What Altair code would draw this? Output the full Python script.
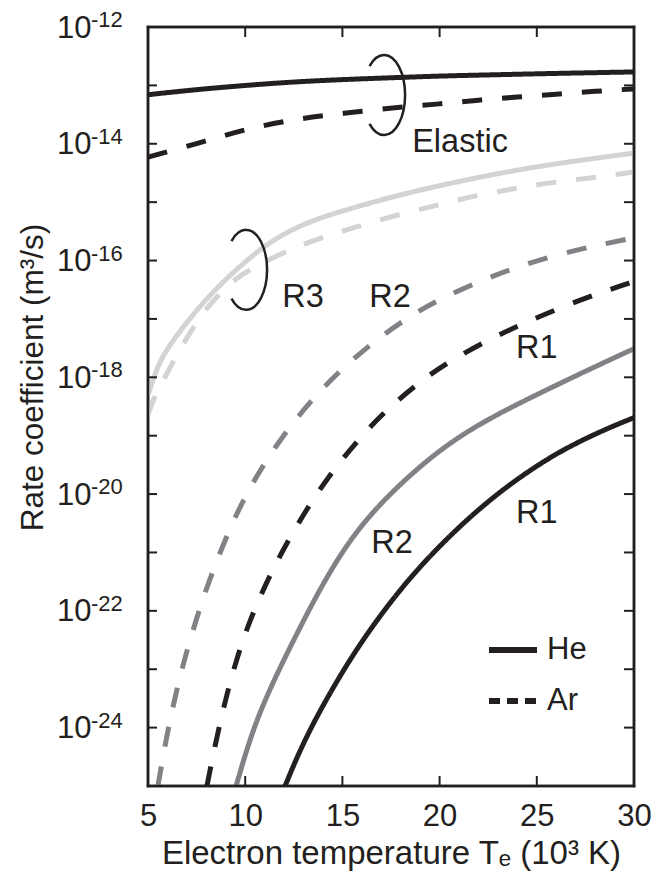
import altair as alt
import pandas as pd

# ---------------- data ----------------
he_elastic_T = [5, 7.5, 10, 12.5, 15, 17.5, 20, 22.5, 25, 27.5, 30]
he_elastic_k = [6.92e-14, 8.51e-14, 1.0e-13, 1.15e-13, 1.26e-13, 1.35e-13, 1.45e-13, 1.51e-13, 1.58e-13, 1.64e-13, 1.70e-13]

ar_elastic_T = [5, 7.5, 10, 12.5, 15, 18, 20, 22, 24, 26, 28, 30]
ar_elastic_k = [5.9e-15, 1.0e-14, 1.78e-14, 2.63e-14, 3.31e-14, 4.27e-14, 4.79e-14, 5.62e-14, 6.31e-14, 7.08e-14, 7.94e-14, 8.71e-14]

he_r3_T = [5, 5.5, 6, 7, 8, 9, 10, 11, 12, 13, 14, 15, 17, 19, 22, 25, 27.5, 30]
he_r3_k = [5.0e-19, 1.58e-18, 3.16e-18, 8.91e-18, 2.19e-17, 4.79e-17, 9.55e-17, 1.78e-16, 2.88e-16, 4.17e-16,
           5.56e-16, 7.08e-16, 1.10e-15, 1.62e-15, 2.69e-15, 4.07e-15, 5.37e-15, 6.92e-15]

ar_r3_T = [5, 5.25, 6, 7, 8, 9.2, 10.25, 11.6, 12.65, 13.85, 15.75, 17.8, 19.9, 21.9, 24, 26, 28.25, 30]
ar_r3_k = [2.29e-19, 4.07e-19, 1.23e-18, 4.9e-18, 1.55e-17, 4.17e-17, 7.08e-17, 1.20e-16, 1.70e-16, 2.45e-16,
           3.80e-16, 6.03e-16, 8.91e-16, 1.32e-15, 1.74e-15, 2.24e-15, 2.69e-15, 3.31e-15]

ar_r2_T = [5.51, 5.98, 6.49, 6.9, 7.52, 8.09, 9.06, 9.89, 10.76, 11.94, 13.33, 14.72, 16.42, 18.32, 20.02,
           22.08, 23.98, 26.04, 28.1, 30]
ar_r2_k = [1e-25, 7.94e-25, 4.68e-24, 1.58e-23, 7.94e-23, 2.95e-22, 2.0e-21, 7.76e-21, 2.57e-20, 1.0e-19,
           3.80e-19, 1.17e-18, 3.63e-18, 1.05e-17, 2.19e-17, 4.47e-17, 7.76e-17, 1.26e-16, 1.82e-16, 2.45e-16]

ar_r1_T = [8.03, 8.55, 9.06, 9.58, 10.25, 11.28, 12.15, 13.18, 14.21, 15.75, 17.09, 18.84, 20.38, 22.44,
           24.29, 26.19, 28.25, 30]
ar_r1_k = [1e-25, 7.24e-25, 3.80e-24, 1.58e-23, 7.24e-23, 4.17e-22, 1.48e-21, 5.62e-21, 1.86e-20, 8.13e-20,
           2.45e-19, 7.76e-19, 1.78e-18, 4.27e-18, 8.32e-18, 1.55e-17, 2.82e-17, 4.37e-17]

he_r2_T = [9.53, 10.4, 11.43, 12.46, 13.49, 14.36, 15.39, 16.57, 18.12, 19.87, 21.72, 23.98, 26.35, 28.1, 30]
he_r2_k = [1e-25, 9.77e-25, 6.03e-24, 3.02e-23, 1.41e-22, 4.68e-22, 1.62e-21, 5.01e-21, 1.66e-20, 5.25e-20,
           1.38e-19, 3.47e-19, 8.32e-19, 1.58e-18, 3.09e-18]

he_r1_T = [12.05, 12.82, 13.85, 15.39, 16.93, 18.48, 20.02, 21.56, 23.11, 24.65, 26.19, 27.74, 29.03, 30]
he_r1_k = [1e-25, 4.17e-25, 2.0e-24, 1.51e-23, 8.32e-23, 3.72e-22, 1.32e-21, 4.07e-21, 1.10e-20, 2.57e-20,
           5.37e-20, 9.77e-20, 1.51e-19, 2.04e-19]

# annotation labels
ann_text = ["Elastic", "R3", "R2", "R1", "R2", "R1"]
ann_T = [21.05, 12.97, 17.45, 25.0, 17.55, 25.0]
ann_k = [7.24e-15, 1.62e-17, 1.62e-17, 2.14e-18, 9.77e-22, 3.24e-21]

# bracket centres
bracket_T = [17.14, 10.04]
bracket_k = [6.85e-14, 6.92e-17]

# axes
x_ticks = [5, 10, 15, 20, 25, 30]
x_inner_ticks = [10, 15, 20, 25]
x_edges = [5, 30]
y_decades = [10.0 ** e for e in range(-24, -12)]
y_edges = [1e-25, 1e-12]
y_label_vals = [1e-12, 1e-14, 1e-16, 1e-18, 1e-20, 1e-22, 1e-24]
y_label_exp = ["-12", "-14", "-16", "-18", "-20", "-22", "-24"]

# ---------------- build tables ----------------
series = [
    ("R3 He", "He", "R3", he_r3_T, he_r3_k),
    ("R3 Ar", "Ar", "R3", ar_r3_T, ar_r3_k),
    ("R2 Ar", "Ar", "R2", ar_r2_T, ar_r2_k),
    ("R2 He", "He", "R2", he_r2_T, he_r2_k),
    ("R1 Ar", "Ar", "R1", ar_r1_T, ar_r1_k),
    ("R1 He", "He", "R1", he_r1_T, he_r1_k),
    ("El He", "He", "Elastic", he_elastic_T, he_elastic_k),
    ("El Ar", "Ar", "Elastic", ar_elastic_T, ar_elastic_k),
]
rows = []
for order, (sid, gas, rx, Ts, ks) in enumerate(series):
    for i, (t, k) in enumerate(zip(Ts, ks)):
        rows.append({"series": sid, "gas": gas, "reaction": rx, "T": t, "k": k, "o": order * 100 + i})
df = pd.DataFrame(rows)

ann_df = pd.DataFrame({"T": ann_T, "k": ann_k, "label": ann_text})
br_df = pd.DataFrame({"T": bracket_T, "k": bracket_k})
ylab_df = pd.DataFrame({"k": y_label_vals, "exp": y_label_exp})
ydec_df = pd.DataFrame({"k": y_decades})
xt_df = pd.DataFrame({"T": x_inner_ticks})
xe_df = pd.DataFrame({"T": x_edges})
ye_df = pd.DataFrame({"k": y_edges})

INK = "#231f20"
FONT = "Liberation Sans"
W, H = 486, 759

xscale = alt.Scale(domain=[5, 30], nice=False, zero=False)
yscale = alt.Scale(type="log", domain=[1e-25, 1e-12], nice=False)

x_axis = alt.Axis(
    values=x_ticks, ticks=False, tickSize=0, domain=False, grid=False,
    labelFontSize=31, labelFont=FONT, labelColor=INK, labelFlush=False,
    labelPadding=39, labelBaseline="alphabetic",
    title="Electron temperature Tₑ (10³ K)", titleFontSize=33, titleFont=FONT,
    titleFontWeight="normal", titleColor=INK, titleBaseline="alphabetic",
    titleY=77, titleX=W / 2, titleAlign="center",
)
y_axis = alt.Axis(
    values=y_label_vals, labelExpr="'10'", ticks=False, tickSize=0, domain=False, grid=False,
    labelFontSize=31, labelFont=FONT, labelColor=INK, labelFlush=False, labelOverlap=False,
    labelPadding=57, labelAlign="right", labelBaseline="alphabetic", labelOffset=10,
    title="Rate coefficient (m³/s)", titleFontSize=31.5, titleFont=FONT,
    titleFontWeight="normal", titleColor=INK, titleBaseline="alphabetic",
    titleX=-106, titleY=350, titleAlign="center", titleAngle=270,
)

lines = alt.Chart(df).mark_line(strokeWidth=5, clip=True, interpolate="basis").encode(
    x=alt.X("T:Q", scale=xscale, axis=x_axis),
    y=alt.Y("k:Q", scale=yscale, axis=y_axis),
    color=alt.Color("reaction:N", scale=alt.Scale(domain=["Elastic", "R1", "R2", "R3"],
                                                  range=[INK, INK, "#808285", "#d1d3d4"]), legend=None),
    strokeDash=alt.StrokeDash("gas:N", scale=alt.Scale(domain=["He", "Ar"], range=[[1, 0], [20, 20]]),
                              legend=None),
    detail="series:N",
    order="o:Q",
)

# invisible layer that only carries the He / Ar key
key = alt.Chart(df).mark_line(opacity=0, strokeWidth=6, clip=True).encode(
    x=alt.X("T:Q", scale=xscale),
    y=alt.Y("k:Q", scale=yscale),
    strokeDash=alt.StrokeDash(
        "gas:N",
        scale=alt.Scale(domain=["He", "Ar"], range=[[1, 0], [11, 7]]),
        legend=alt.Legend(
            title=None, orient="none", legendX=338, legendY=596, direction="vertical",
            symbolType="stroke", symbolSize=2304, symbolStrokeWidth=6, symbolStrokeColor=INK,
            symbolOpacity=1,
            labelFontSize=31, labelFont=FONT, labelColor=INK, labelOffset=7,
            rowPadding=9, padding=0,
        ),
    ),
    detail="series:N",
)

exps = alt.Chart(ylab_df).mark_text(align="left", baseline="alphabetic", fontSize=22, font=FONT,
                                    color=INK).encode(
    y=alt.Y("k:Q", scale=yscale), x=alt.value(-57), text="exp:N")

tick_l = alt.Chart(ydec_df).mark_rule(color=INK, strokeWidth=2).encode(
    y=alt.Y("k:Q", scale=yscale), x=alt.value(0), x2=alt.value(9))
tick_r = alt.Chart(ydec_df).mark_rule(color=INK, strokeWidth=2).encode(
    y=alt.Y("k:Q", scale=yscale), x=alt.value(W), x2=alt.value(W - 10))
tick_b = alt.Chart(xt_df).mark_rule(color=INK, strokeWidth=2).encode(
    x=alt.X("T:Q", scale=xscale), y=alt.value(H), y2=alt.value(H - 10))
tick_t = alt.Chart(xt_df).mark_rule(color=INK, strokeWidth=2).encode(
    x=alt.X("T:Q", scale=xscale), y=alt.value(0), y2=alt.value(10))

# plot frame: vertical edges at x = 5 and 30, horizontal edges at 1e-25 and 1e-12
frame_v = alt.Chart(xe_df).mark_rule(color=INK, strokeWidth=2.5).encode(
    x=alt.X("T:Q", scale=xscale), y=alt.value(-1.25), y2=alt.value(H + 1.25))
frame_h = alt.Chart(ye_df).mark_rule(color=INK, strokeWidth=2.5).encode(
    y=alt.Y("k:Q", scale=yscale), x=alt.value(-1.25), x2=alt.value(W + 1.25))

ann = alt.Chart(ann_df).mark_text(align="center", baseline="alphabetic", fontSize=32.5, font=FONT,
                                  color=INK).encode(
    x=alt.X("T:Q", scale=xscale), y=alt.Y("k:Q", scale=yscale), text="label:N")

bracket_path = "M -0.362 -0.72 A 0.525 1 0 1 1 -0.362 0.72"
brackets = alt.Chart(br_df).mark_point(shape=bracket_path, size=6400, filled=False, stroke=INK,
                                       strokeWidth=2.5, opacity=1).encode(
    x=alt.X("T:Q", scale=xscale), y=alt.Y("k:Q", scale=yscale))

chart = alt.layer(lines, key, tick_l, tick_r, tick_b, tick_t, frame_v, frame_h, exps, ann,
                  brackets).resolve_scale(
    strokeDash="independent"
).properties(
    width=W, height=H,
    background="white",
    autosize=alt.AutoSizeParams(type="none"),
    padding={"left": 148, "top": 27, "right": 24, "bottom": 92},
).configure_view(stroke=INK, strokeWidth=2.5)

chart.save("out.html", embed_options={"renderer": "svg", "actions": False})
